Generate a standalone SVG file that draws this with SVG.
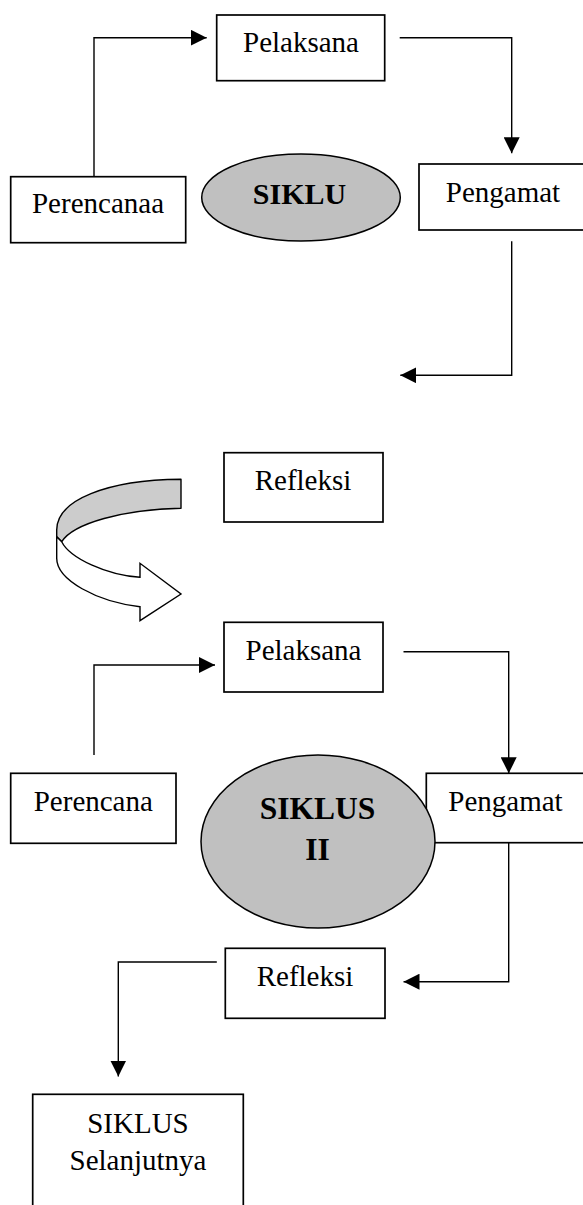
<svg xmlns="http://www.w3.org/2000/svg" width="583" height="1205" viewBox="0 0 583 1205">
<defs>
<style>
.box{fill:#fff;stroke:#000;stroke-width:1.7}
.ell{fill:#c0c0c0;stroke:#000;stroke-width:1.5}
.t{font-family:"Liberation Serif","Times New Roman",serif;font-size:29px;fill:#000;text-anchor:middle}
.b{font-family:"Liberation Serif","Times New Roman",serif;font-weight:bold;fill:#000;text-anchor:middle}
.con{fill:none;stroke:#000;stroke-width:1.4}
</style>
<marker id="ah" markerUnits="userSpaceOnUse" markerWidth="16" markerHeight="16" viewBox="0 0 15 15" refX="15" refY="7.5" orient="auto">
<path d="M0,0 L15,7.5 L0,15 z" fill="#000"/>
</marker>
</defs>
<rect width="583" height="1205" fill="#fff"/>
<g id="connectors">
<path class="con" d="M94,176.7 V37.7 H206.7" marker-end="url(#ah)"/>
<path class="con" d="M399.7,37.7 H511.7 V153.3" marker-end="url(#ah)"/>
<path class="con" d="M511.7,241.3 V375.3 H400.3" marker-end="url(#ah)"/>
<path class="con" d="M94,755 V665 H215" marker-end="url(#ah)"/>
<path class="con" d="M403.5,651.7 H508.7 V773.3" marker-end="url(#ah)"/>
<path class="con" d="M508.7,842.7 V981.7 H403.5" marker-end="url(#ah)"/>
<path class="con" d="M216.8,962 H118.3 V1076.5" marker-end="url(#ah)"/>
</g>
<g id="pelaksana1"><rect class="box" x="216.7" y="15" width="168" height="65.7"/><text class="t" x="301" y="51.7">Pelaksana</text></g>
<g id="perencanaa1"><rect class="box" x="10.7" y="176.7" width="175" height="66"/><text class="t" x="98" y="213.3">Perencanaa</text></g>
<g id="siklu"><ellipse class="ell" cx="301" cy="197.5" rx="99.3" ry="43.5"/><text class="b" x="299.5" y="204" font-size="30">SIKLU</text></g>
<g id="pengamat1"><rect class="box" x="419" y="164" width="168" height="66"/><text class="t" x="503" y="201.7">Pengamat</text></g>
<g id="refleksi1"><rect class="box" x="224" y="452.7" width="159" height="69.3"/><text class="t" x="303" y="490">Refleksi</text></g>
<g id="curved-arrow">
<path d="M181,479.3 C106.7,480 56.7,500 56.7,530 L56.7,536.7 L61.7,541.7 C73.3,523.3 123.3,509.3 181,508.3 Z" fill="#cccccc" stroke="#000" stroke-width="1.4" stroke-linejoin="round"/>
<path d="M56.7,536.7 L56.7,558.3 C56.7,580 96.7,601.7 140,606.7 L140,620.7 L181,594 L140,563.3 L140,577.3 C106.7,575 70,558.3 61.7,541.7 Z" fill="#fff" stroke="#000" stroke-width="1.4" stroke-linejoin="miter"/>
</g>
<g id="pelaksana2"><rect class="box" x="224" y="622.3" width="159" height="69.7"/><text class="t" x="303.5" y="660">Pelaksana</text></g>
<g id="perencana2"><rect class="box" x="10.7" y="773.3" width="165.3" height="70"/><text class="t" x="93.3" y="811">Perencana</text></g>
<g id="pengamat2"><rect class="box" x="426.3" y="773.3" width="160" height="69.4"/><text class="t" x="505.5" y="810.7">Pengamat</text></g>
<g id="siklus2"><ellipse class="ell" cx="318" cy="841.5" rx="117" ry="86.5"/><text class="b" x="317.5" y="819.3" font-size="31.5">SIKLUS</text><text class="b" x="317.5" y="860" font-size="31.5">II</text></g>
<g id="refleksi2"><rect class="box" x="225.3" y="948.3" width="159.7" height="70"/><text class="t" x="305" y="986">Refleksi</text></g>
<g id="siklus-selanjutnya"><rect class="box" x="32.7" y="1094.3" width="210.6" height="120"/><text class="t" x="138" y="1132.7">SIKLUS</text><text class="t" x="138" y="1170">Selanjutnya</text></g>
</svg>
